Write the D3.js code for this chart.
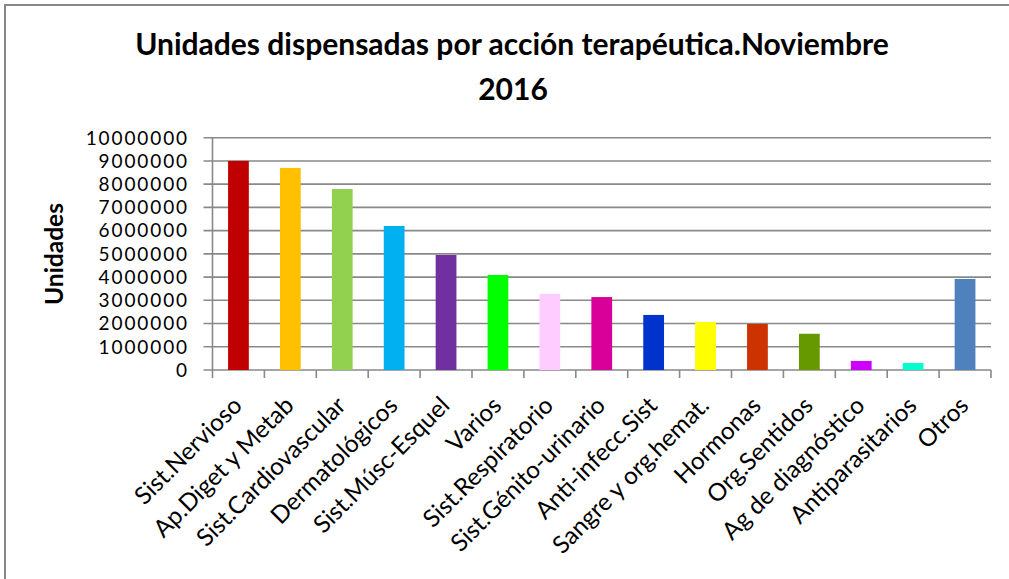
<!DOCTYPE html>
<html>
<head>
<meta charset="utf-8">
<title>Unidades dispensadas</title>
<script src="https://d3js.org/d3.v7.min.js"></script>
<style>
  body { margin: 0; background: #fff; }
  text { font-family: Lato, "Open Sans", sans-serif; fill: #000; }
</style>
</head>
<body>
<svg width="1009" height="579"></svg>
<script>
const categories = ["Sist.Nervioso", "Ap.Diget y Metab", "Sist.Cardiovascular", "Dermatológicos",
  "Sist.Músc-Esquel", "Varios", "Sist.Respiratorio", "Sist.Génito-urinario", "Anti-infecc.Sist",
  "Sangre y org.hemat.", "Hormonas", "Org.Sentidos", "Ag de diagnóstico", "Antiparasitarios", "Otros"];
const values = [9000000, 8700000, 7790000, 6200000, 4950000, 4090000, 3270000, 3140000, 2370000,
  2070000, 1980000, 1560000, 390000, 300000, 3920000];
const colors = ["#C00000", "#FFC000", "#92D050", "#00B0F0", "#7030A0", "#00FF00", "#FFCCFF", "#D9009A",
  "#0033CC", "#FFFF00", "#CC3300", "#669900", "#CC00FF", "#00FFCC", "#4F81BD"];
const yTicks = d3.range(0, 10000001, 1000000);

const svg = d3.select("svg");
const plotLeft = 212.5, plotRight = 991, plotTop = 137.7, plotBottom = 370;

// scale a text's font size so it measures the wanted width
function fit(sel, base, target) {
  sel.style("font-size", base + "px");
  const w = sel.node().getComputedTextLength();
  return base * target / w;
}

// chart border
svg.append("rect")
  .attr("x", 5).attr("y", 5).attr("width", 1020).attr("height", 600)
  .attr("fill", "none").attr("stroke", "#878787").attr("stroke-width", 2);

const x = d3.scaleBand().domain(categories).range([plotLeft, plotRight]).paddingInner(0.6).paddingOuter(0.3);
const y = d3.scaleLinear().domain([0, 10000000]).range([plotBottom, plotTop]);

// gridlines
svg.append("g")
  .selectAll("line")
  .data(yTicks)
  .join("line")
  .attr("x1", plotLeft - 9).attr("x2", plotRight)
  .attr("y1", d => y(d)).attr("y2", d => y(d))
  .attr("stroke", "#898989").attr("stroke-width", 1.6);

// y axis labels
svg.append("g")
  .selectAll("text")
  .data(yTicks)
  .join("text")
  .attr("x", 189).attr("y", d => y(d))
  .attr("dy", "0.36em")
  .attr("text-anchor", "end")
  .style("font-size", "19px")
  .style("letter-spacing", "1.9px")
  .text(d => d);

// bars
svg.append("g")
  .selectAll("rect")
  .data(values)
  .join("rect")
  .attr("x", (d, i) => x(categories[i]))
  .attr("width", x.bandwidth())
  .attr("y", d => y(d))
  .attr("height", d => y(0) - y(d))
  .attr("fill", (d, i) => colors[i]);

// axis lines
svg.append("line")
  .attr("x1", plotLeft).attr("x2", plotLeft).attr("y1", plotTop).attr("y2", plotBottom)
  .attr("stroke", "#898989").attr("stroke-width", 1.6);
const n = categories.length;
svg.append("g")
  .selectAll("line")
  .data(d3.range(n + 1))
  .join("line")
  .attr("x1", i => plotLeft + i * (plotRight - plotLeft) / n)
  .attr("x2", i => plotLeft + i * (plotRight - plotLeft) / n)
  .attr("y1", plotBottom).attr("y2", plotBottom + 8)
  .attr("stroke", "#898989").attr("stroke-width", 1.6);

// x labels
const xLabels = svg.append("g")
  .selectAll("text")
  .data(categories)
  .join("text")
  .attr("transform", d => `translate(${x(d) + x.bandwidth() / 2 + 5},${plotBottom + 37}) rotate(-45)`)
  .attr("text-anchor", "end")
  .text(d => d);
const xSize = fit(xLabels.filter((d, i) => i === 0), 20, 140);
xLabels.style("font-size", xSize + "px");

// title
const t1 = svg.append("text")
  .attr("x", 512).attr("y", 55)
  .attr("text-anchor", "middle")
  .style("font-weight", "bold")
  .text("Unidades dispensadas por acción terapéutica.Noviembre");
const tSize = fit(t1, 26, 754);
t1.style("font-size", tSize + "px");
svg.append("text")
  .attr("x", 513).attr("y", 100)
  .attr("text-anchor", "middle")
  .style("font-size", tSize + "px").style("font-weight", "bold")
  .text("2016");

// y axis title
const yt = svg.append("text")
  .attr("transform", "translate(63,254) rotate(-90)")
  .attr("text-anchor", "middle")
  .style("font-weight", "bold")
  .text("Unidades");
yt.style("font-size", fit(yt, 20, 102) + "px");
</script>
</body>
</html>
